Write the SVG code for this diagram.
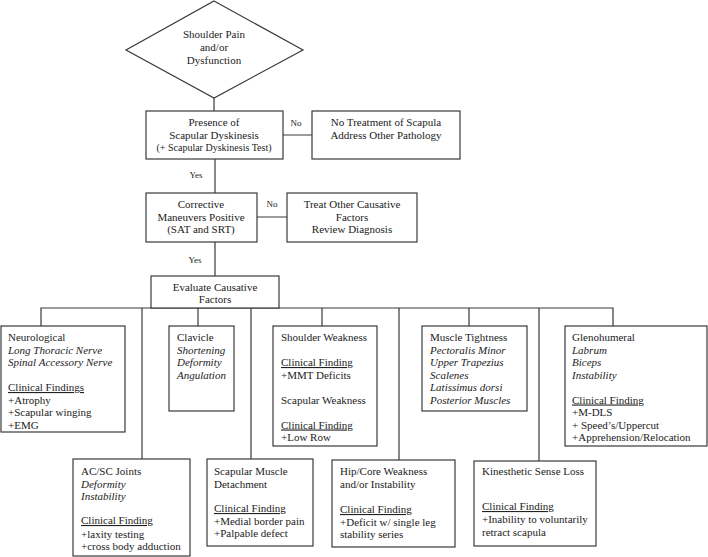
<svg xmlns="http://www.w3.org/2000/svg" width="708" height="557" viewBox="0 0 708 557">
<style>
.b{fill:#fff;stroke:#3a3a3a;stroke-width:1.2}
.c{fill:none;stroke:#3a3a3a;stroke-width:1.2}
text{font-family:"Liberation Serif","Times New Roman",serif;font-size:11px;fill:#222}
.m{text-anchor:middle}
.i{font-style:italic}
.u{text-decoration:underline}
.s{font-size:10px}
.l{font-size:9px}
</style>
<rect width="708" height="557" fill="#fff"/>
<g id="connectors">
<path class="c" d="M214 98V111M283 135H312M215 159V193M257 217H287M215 242V276"/>
<path class="c" d="M41 326V308H613V326M142 308V459M198 308V326M251 308V459M322 308V326M399 308V460M469 308V326M539 308V461"/>
<text class="l" x="296" y="126" text-anchor="middle">No</text>
<text class="l" x="196" y="178" text-anchor="middle">Yes</text>
<text class="l" x="272" y="207" text-anchor="middle">No</text>
<text class="l" x="195" y="263" text-anchor="middle">Yes</text>
</g>
<g id="start">
<polygon class="b" points="214,1 303,50 214,98 126,50"/>
<text class="m" x="214" y="38">Shoulder Pain</text>
<text class="m" x="214" y="51">and/or</text>
<text class="m" x="214" y="64">Dysfunction</text>
</g>
<g id="presence">
<rect class="b" x="146" y="111" width="137" height="48"/>
<text class="m" x="214" y="126">Presence of</text>
<text class="m" x="214" y="139">Scapular Dyskinesis</text>
<text class="m s" x="214" y="151">(+ Scapular Dyskinesis Test)</text>
</g>
<g id="no-treatment">
<rect class="b" x="312" y="111" width="148" height="48"/>
<text class="m" x="386" y="126">No Treatment of Scapula</text>
<text class="m" x="386" y="139">Address Other Pathology</text>
</g>
<g id="corrective">
<rect class="b" x="146" y="193" width="111" height="49"/>
<text class="m" x="201" y="208">Corrective</text>
<text class="m" x="201" y="221">Maneuvers Positive</text>
<text class="m" x="201" y="233">(SAT and SRT)</text>
</g>
<g id="treat-other">
<rect class="b" x="287" y="193" width="130" height="49"/>
<text class="m" x="352" y="208">Treat Other Causative</text>
<text class="m" x="352" y="221">Factors</text>
<text class="m" x="352" y="233">Review Diagnosis</text>
</g>
<g id="evaluate">
<rect class="b" x="151" y="276" width="128" height="32"/>
<text class="m" x="215" y="291">Evaluate Causative</text>
<text class="m" x="215" y="303">Factors</text>
</g>
<g id="neurological">
<rect class="b" x="1" y="326" width="124" height="106"/>
<text x="8" y="341">Neurological</text>
<text class="i" x="8" y="353.5">Long Thoracic Nerve</text>
<text class="i" x="8" y="366">Spinal Accessory Nerve</text>
<text class="u" x="8" y="391">Clinical Findings</text>
<text x="8" y="403.5">+Atrophy</text>
<text x="8" y="416">+Scapular winging</text>
<text x="8" y="428.5">+EMG</text>
</g>
<g id="clavicle">
<rect class="b" x="169" y="326" width="65" height="85"/>
<text x="177" y="341">Clavicle</text>
<text class="i" x="177" y="353.5">Shortening</text>
<text class="i" x="177" y="366">Deformity</text>
<text class="i" x="177" y="378.5">Angulation</text>
</g>
<g id="shoulder-weakness">
<rect class="b" x="273" y="326" width="104" height="120"/>
<text x="281" y="341">Shoulder Weakness</text>
<text class="u" x="281" y="366">Clinical Finding</text>
<text x="281" y="378.5">+MMT Deficits</text>
<text x="281" y="403.5">Scapular Weakness</text>
<text class="u" x="281" y="428.5">Clinical Finding</text>
<text x="281" y="441">+Low Row</text>
</g>
<g id="muscle-tightness">
<rect class="b" x="422" y="326" width="105" height="85"/>
<text x="430" y="341">Muscle Tightness</text>
<text class="i" x="430" y="353.5">Pectoralis Minor</text>
<text class="i" x="430" y="366">Upper Trapezius</text>
<text class="i" x="430" y="378.5">Scalenes</text>
<text class="i" x="430" y="391">Latissimus dorsi</text>
<text class="i" x="430" y="403.5">Posterior Muscles</text>
</g>
<g id="glenohumeral">
<rect class="b" x="565" y="326" width="142" height="120"/>
<text x="572" y="341">Glenohumeral</text>
<text class="i" x="572" y="353.5">Labrum</text>
<text class="i" x="572" y="366">Biceps</text>
<text class="i" x="572" y="378.5">Instability</text>
<text class="u" x="572" y="403.5">Clinical Finding</text>
<text x="572" y="416">+M-DLS</text>
<text x="572" y="428.5">+ Speed’s/Uppercut</text>
<text x="572" y="441">+Apprehension/Relocation</text>
</g>
<g id="acsc">
<rect class="b" x="73" y="459" width="117" height="97"/>
<text x="81" y="475">AC/SC Joints</text>
<text class="i" x="81" y="487.5">Deformity</text>
<text class="i" x="81" y="500">Instability</text>
<text class="u" x="81" y="524">Clinical Finding</text>
<text x="81" y="538">+laxity testing</text>
<text x="81" y="550">+cross body adduction</text>
</g>
<g id="scapular-muscle">
<rect class="b" x="207" y="459" width="106" height="87"/>
<text x="214" y="475">Scapular Muscle</text>
<text x="214" y="487.5">Detachment</text>
<text class="u" x="214" y="512">Clinical Finding</text>
<text x="214" y="524.5">+Medial border pain</text>
<text x="214" y="537">+Palpable defect</text>
</g>
<g id="hip-core">
<rect class="b" x="332" y="460" width="123" height="87"/>
<text x="340" y="475">Hip/Core Weakness</text>
<text x="340" y="487.5">and/or Instability</text>
<text class="u" x="340" y="513">Clinical Finding</text>
<text x="340" y="525.5">+Deficit w/ single leg</text>
<text x="340" y="537.5">stability series</text>
</g>
<g id="kinesthetic">
<rect class="b" x="474" y="461" width="122" height="85"/>
<text x="482" y="475">Kinesthetic Sense Loss</text>
<text class="u" x="482" y="510">Clinical Finding</text>
<text x="482" y="523">+Inability to voluntarily</text>
<text x="482" y="535.5">retract scapula</text>
</g>
</svg>
